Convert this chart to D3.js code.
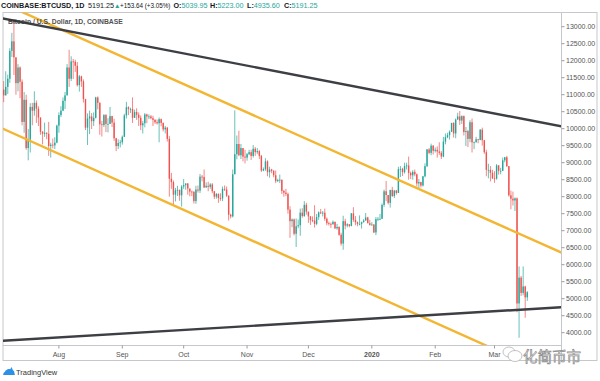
<!DOCTYPE html>
<html><head><meta charset="utf-8">
<script src="https://cdn.jsdelivr.net/npm/d3@7"></script>
<style>html,body{margin:0;padding:0;background:#fff;} svg{display:block;font-family:"Liberation Sans",Arial,sans-serif;}</style>
</head><body><svg id="c" width="600" height="381"></svg>
<script>
// ---- data: daily candles [open, high, low, close], consecutive days from startDay ----
const startDay = "2019-07-04";
const jul2019 = [[11970,12060,11070,11150],[11150,11400,10780,10980],[10980,11690,10980,11230],[11230,11590,11020,11470],[11470,12370,11350,12290],[12290,12820,12110,12570],[12570,13200,11580,12100],[12100,12100,11000,11340],[11340,11900,11100,11800],[11800,11830,10900,11380],[11380,11450,10100,10200],[10200,11080,9880,10850],[10850,11000,9380,9430],[9430,9990,9070,9680],[9680,10750,9300,10640],[10640,10760,10100,10530],[10530,11100,10380,10760],[10760,10830,10170,10590],[10590,10660,10080,10330],[10330,10330,9820,9910],[9910,9930,9540,9850],[9850,10180,9760,9880],[9880,9890,9690,9850],[9850,10200,9200,9490],[9490,9590,9150,9530],[9530,9710,9420,9510],[9510,9750,9400,9590],[9590,10120,9570,10090]];
const aug2019 = [[10090,10480,9880,10400],[10400,10660,10340,10530],[10530,10920,10520,10820],[10820,11080,10580,10980],[10980,11900,10980,11800],[11800,12320,11230,11470],[11470,12130,11400,11980],[11980,12050,11460,11970],[11970,12030,11670,11850],[11850,11960,11240,11280],[11280,11580,11090,11540],[11540,11560,11230,11390],[11390,11450,10770,10870],[10870,10880,9960,10030],[10030,10450,9520,10300],[10300,10530,9840,10360],[10360,10460,9990,10220],[10220,10480,10080,10320],[10320,10940,10300,10920],[10920,10950,10570,10760],[10760,10780,9820,10130],[10130,10230,9770,10110],[10110,10430,10050,10400],[10400,10430,9900,10140],[10140,10310,9890,10140],[10140,10640,10140,10370],[10370,10380,10050,10180],[10180,10290,9640,9720],[9720,9730,9340,9490],[9490,9690,9400,9580],[9580,9670,9450,9600]];
const sep2019 = [[9600,9800,9530,9760],[9760,10440,9760,10390],[10390,10790,10300,10630],[10630,10660,10400,10580],[10580,10620,10460,10580],[10580,10920,10170,10320],[10320,10560,10320,10490],[10490,10600,10260,10410],[10410,10480,10080,10320],[10320,10390,9960,10100],[10100,10230,9860,10160],[10160,10460,10040,10420],[10420,10440,10160,10360],[10360,10420,10280,10360],[10360,10400,10280,10310],[10310,10380,10080,10260],[10260,10280,10140,10190],[10190,10270,10120,10160],[10160,10330,9600,10280],[10280,10300,10070,10170],[10170,10180,9920,9980],[9980,10080,9860,10030],[10030,10050,9620,9700],[9700,9790,8000,8530],[8530,8700,8230,8430],[8430,8480,7760,8060],[8060,8260,7860,8190],[8190,8320,8020,8200],[8200,8210,7880,8040],[8040,8340,7710,8300]];
const oct2019 = [[8300,8520,8230,8340],[8340,8390,8200,8390],[8390,8400,8060,8240],[8240,8240,8010,8150],[8150,8180,8020,8140],[8140,8170,7800,7870],[7870,8320,7790,8210],[8210,8330,8120,8180],[8180,8670,8110,8590],[8590,8640,8450,8580],[8580,8800,8260,8270],[8270,8420,8270,8320],[8320,8440,8160,8290],[8290,8400,8230,8360],[8360,8400,8100,8160],[8160,8170,7930,8000],[8000,8110,7940,8080],[8080,8100,7820,7960],[7960,8100,7880,7950],[7950,8300,7870,8230],[8230,8330,8170,8210],[8210,8300,7990,8030],[8030,8040,7300,7470],[7470,7500,7360,7420],[7420,8800,7390,8660],[8660,10540,8660,9250],[9250,9800,9100,9550],[9550,9940,9190,9220],[9220,9550,9110,9430],[9430,9430,9040,9180],[9180,9380,8980,9150]];
const nov2019 = [[9150,9290,9060,9250],[9250,9380,9220,9310],[9310,9380,9080,9200],[9200,9520,9150,9410],[9410,9460,9200,9310],[9310,9430,9250,9340],[9340,9370,9110,9200],[9200,9230,8730,8770],[8770,8860,8750,8810],[8810,9130,8760,9040],[9040,9070,8600,8720],[8720,8880,8560,8800],[8800,8820,8690,8760],[8760,8780,8570,8630],[8630,8770,8400,8460],[8460,8530,8430,8490],[8490,8650,8400,8500],[8500,8500,8080,8170],[8170,8200,8000,8120],[8120,8230,8020,8080],[8080,8120,7500,7620],[7620,7720,6790,7280],[7280,7360,7100,7330],[7330,7360,6860,6910],[6910,7360,6520,7130],[7130,7330,7070,7160],[7160,7650,6850,7530],[7530,7660,7380,7430],[7430,7870,7410,7760],[7760,7820,7470,7560]];
const dec2019 = [[7560,7560,7230,7420],[7420,7430,7170,7310],[7310,7420,7250,7300],[7300,7750,7090,7200],[7200,7490,7160,7400],[7400,7570,7320,7540],[7540,7640,7490,7510],[7510,7580,7420,7530],[7530,7650,7290,7350],[7350,7390,7160,7220],[7220,7270,7150,7200],[7200,7240,7080,7190],[7190,7300,7180,7260],[7260,7270,7050,7070],[7070,7200,7030,7110],[7110,7130,6850,6880],[6880,6940,6560,6620],[6620,7440,6440,7280],[7280,7350,7040,7150],[7150,7220,7100,7190],[7190,7190,7100,7140],[7140,7520,7130,7510],[7510,7690,7260,7320],[7320,7430,7160,7250],[7250,7270,7130,7200],[7200,7450,7160,7200],[7200,7270,7060,7250],[7250,7340,7240,7300],[7300,7520,7290,7390],[7390,7410,7220,7220],[7220,7320,7150,7170]];
const jan2020 = [[7170,7250,7150,7180],[7180,7200,6930,6950],[6950,7400,6870,7340],[7340,7400,7280,7350],[7350,7490,7310,7350],[7350,7800,7350,7760],[7760,8210,7700,8160],[8160,8460,7870,8050],[8050,8050,7770,7820],[7820,8200,7680,8200],[8200,8290,7990,8020],[8020,8200,7960,8180],[8180,8200,8060,8110],[8110,8880,8110,8810],[8810,8900,8580,8820],[8820,8850,8610,8720],[8720,9000,8680,8900],[8900,9000,8800,8920],[8920,9180,8500,8700],[8700,8740,8520,8630],[8630,8780,8500,8730],[8730,8800,8600,8660],[8660,8680,8300,8390],[8390,8520,8220,8430],[8430,8440,8270,8330],[8330,8610,8300,8600],[8600,8980,8570,8900],[8900,9400,8870,9390],[9390,9430,9250,9290],[9290,9560,9220,9500],[9500,9520,9240,9350]];
const feb2020 = [[9350,9450,9300,9380],[9380,9480,9150,9330],[9330,9600,9230,9290],[9290,9340,9110,9180],[9180,9760,9160,9620],[9620,9860,9540,9750],[9750,9880,9720,9810],[9810,9950,9680,9910],[9910,10170,9900,10170],[10170,10190,9740,9860],[9860,10300,9720,10270],[10270,10470,10260,10360],[10360,10520,10110,10240],[10240,10390,10140,10370],[10370,10390,9800,9900],[9900,10050,9490,9930],[9930,9970,9460,9700],[9700,10250,9600,10190],[10190,10300,9300,9600],[9600,9620,9400,9610],[9610,9760,9580,9690],[9690,9700,9570,9670],[9670,9990,9660,9970],[9970,10030,9500,9660],[9660,9670,9260,9310],[9310,9380,8600,8790],[8790,8970,8540,8790],[8790,8900,8450,8700],[8700,8790,8520,8540]];
const mar2020 = [[8540,8750,8410,8530],[8530,8960,8500,8920],[8920,8930,8650,8760],[8760,8850,8660,8760],[8760,9150,8760,9070],[9070,9170,9010,9160],[9160,9200,8870,8900],[8900,8900,8000,8040],[8040,8180,7630,7940],[7940,8150,7740,7890],[7890,7980,7580,7950],[7950,7980,4600,4860],[4860,5950,3850,5620],[5620,5670,5080,5170],[5170,5950,5100,5360],[5360,5380,4440,5040],[5039.95,5223,4935.6,5191.25]];

// trend lines: [date, price] anchors
const blackUpper = [["2019-07-04",13250],["2020-04-03",10065]];
const blackLower = [["2019-07-04",3760],["2020-04-03",4750]];
const yellowUpper = [["2019-07-04",13700],["2020-04-03",6350]];
const yellowLower = [["2019-07-04",10015],["2020-04-03",2620]];

// axis ticks
const monthTicks = ["2019-08-01","2019-09-01","2019-10-01","2019-11-01","2019-12-01","2020-01-01","2020-02-01","2020-03-01"];
const monthLabels = ["Aug","Sep","Oct","Nov","Dec","2020","Feb","Mar"];
const priceTicks = [4000,4500,5000,5500,6000,6500,7000,7500,8000,8500,9000,9500,10000,10500,11000,11500,12000,12500,13000];

// header texts
const headerParts = [
  {t:"COINBASE:BTCUSD, 1D", x:1, fs:7.2, bold:true, c:"#131722"},
  {t:"5191.25", x:88, fs:7.2, c:"#131722"},
  {t:"\u25B2", x:114, fs:6.5, c:"#26a69a"},
  {t:"+153.64 (+3.05%)", x:120, fs:6.3, c:"#131722"}
];
const ohlcLabels = ["O:","H:","L:","C:"];
const ohlcValues = ["5039.95","5223.00","4935.60","5191.25"];
const ohlcX = [173.5, 210, 247, 284];
const legendTitle = "Bitcoin / U.S. Dollar, 1D, COINBASE";
const watermarkText = "化简币市";

// ---- layout ----
const plot = {l:3, r:561, t:12.5, b:345};
const parse = d3.utcParse("%Y-%m-%d");
const t0 = parse(startDay);
const ohlc = [jul2019,aug2019,sep2019,oct2019,nov2019,dec2019,jan2020,feb2020,mar2020].flat();
const candles = ohlc.map((r,i)=>({date:d3.utcDay.offset(t0,i),o:r[0],h:r[1],l:r[2],c:r[3]}));

const x = d3.scaleUtc().domain([Date.UTC(2019,6,4,16), Date.UTC(2020,3,2,12)]).range([plot.l, plot.r]);
const y = d3.scaleLinear().domain([4000,13000]).range([332.7,26.7]);

const svg = d3.select("#c");
const frame = "#c5c7cc";

svg.append("clipPath").attr("id","clip").append("rect")
  .attr("x",plot.l).attr("y",plot.t).attr("width",plot.r-plot.l).attr("height",plot.b-plot.t);

// frame
svg.append("rect").attr("x",plot.l).attr("y",plot.t).attr("width",597-plot.l).attr("height",360.5-plot.t)
  .attr("fill","none").attr("stroke",frame).attr("stroke-width",1);
svg.append("line").attr("x1",plot.r+0.5).attr("x2",plot.r+0.5).attr("y1",plot.t).attr("y2",360.5).attr("stroke",frame);
svg.append("line").attr("x1",plot.l).attr("x2",plot.r).attr("y1",plot.b+0.5).attr("y2",plot.b+0.5).attr("stroke",frame);

const g = svg.append("g").attr("clip-path","url(#clip)");

// candles
const up = "#26a69a", dn = "#ef5350";
const cg = g.append("g");
cg.selectAll("line.w").data(candles).join("line").attr("class","w")
  .attr("x1",d=>x(d.date)).attr("x2",d=>x(d.date))
  .attr("y1",d=>y(d.h)).attr("y2",d=>y(d.l))
  .attr("stroke",d=>d.c>=d.o?up:dn).attr("stroke-width",0.7);
cg.selectAll("rect.b").data(candles).join("rect").attr("class","b")
  .attr("x",d=>x(d.date)-0.7).attr("width",1.4)
  .attr("y",d=>y(Math.max(d.o,d.c)))
  .attr("height",d=>Math.max(0.8, Math.abs(y(d.o)-y(d.c))))
  .attr("fill",d=>d.c>=d.o?up:dn);

// trend lines
const line = d3.line().x(p=>x(parse(p[0]))).y(p=>y(p[1]));
[[yellowUpper,"#f2b632"],[yellowLower,"#f2b632"],[blackUpper,"#3d3f45"],[blackLower,"#3d3f45"]].forEach(([pts,col])=>{
  g.append("path").attr("d",line(pts)).attr("fill","none").attr("stroke",col).attr("stroke-width",2.4);
});

// y axis
const ya = svg.append("g");
priceTicks.forEach(v=>{
  ya.append("line").attr("x1",plot.r+0.5).attr("x2",plot.r+3.5).attr("y1",y(v)).attr("y2",y(v)).attr("stroke","#9a9ca3");
  ya.append("text").attr("x",plot.r+5).attr("y",y(v)).attr("dy","0.35em")
    .attr("font-size",7).attr("fill","#555").text(d3.format(".2f")(v));
});

// x axis
const xa = svg.append("g");
monthTicks.forEach((d,i)=>{
  const px = x(parse(d));
  xa.append("line").attr("x1",px).attr("x2",px).attr("y1",plot.b+0.5).attr("y2",plot.b+3.5).attr("stroke","#9a9ca3");
  xa.append("text").attr("x",px).attr("y",356.5).attr("text-anchor","middle")
    .attr("font-size",7).attr("fill","#555").attr("font-weight",monthLabels[i]==="2020"?"bold":"normal")
    .text(monthLabels[i]);
});

// header
headerParts.forEach(p=>{
  svg.append("text").attr("x",p.x).attr("y",7.5).attr("font-size",p.fs).attr("fill",p.c)
    .attr("font-weight",p.bold?"bold":"normal").text(p.t);
});
ohlcLabels.forEach((lab,i)=>{
  const t = svg.append("text").attr("x",ohlcX[i]).attr("y",7.5).attr("font-size",7.2);
  t.append("tspan").attr("font-weight","bold").attr("fill","#131722").text(lab);
  t.append("tspan").attr("fill","#26a69a").text(ohlcValues[i]);
});
svg.append("text").attr("x",8).attr("y",24).attr("font-size",6.8).attr("font-weight","bold")
  .attr("fill","#333").attr("opacity",0.85).text(legendTitle);

// TradingView logo
const logo = svg.append("g").attr("transform","translate(3,366)");
logo.append("path").attr("d","M0,9 L3,4 L5.5,6.5 L8.5,1 L12,9 Z").attr("fill","#2196f3");
logo.append("path").attr("d","M1.5,9 C0,9 0,6 2.5,6 C3,3 7,2 8,4.5 C10,3.5 12.5,5.5 11,9 Z").attr("fill","#2e8fe6");
svg.append("text").attr("x",16).attr("y",374.5).attr("font-size",7.5).attr("fill","#333").text("TradingView");

// watermark
const wm = svg.append("g").attr("fill","#fff").attr("stroke","#9a9a9a").attr("stroke-width",0.6);
wm.append("ellipse").attr("cx",509).attr("cy",352).attr("rx",6).attr("ry",5);
wm.append("ellipse").attr("cx",515).attr("cy",356).attr("rx",7).attr("ry",5.5);
svg.append("text").attr("x",523).attr("y",362).attr("font-size",14.5)
  .attr("font-family","'Noto Sans CJK SC',sans-serif").attr("fill","#fff")
  .attr("stroke","#8a8a8a").attr("stroke-width",0.7).text(watermarkText);
</script></body></html>
